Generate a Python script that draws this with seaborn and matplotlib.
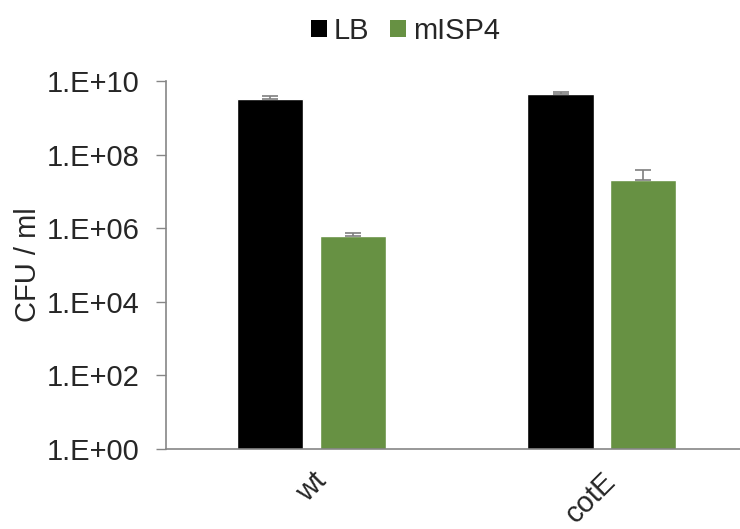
import numpy as np
import pandas as pd
import matplotlib
matplotlib.use("Agg")
import matplotlib.pyplot as plt
import seaborn as sns
from matplotlib.patches import Patch
from matplotlib.ticker import FixedLocator, FuncFormatter

# dados
strains = ["wt", "cotE"]
media = ["LB", "mISP4"]
lb_vals = [3.2e9, 4.3e9]
misp4_vals = [6.0e5, 2.0e7]
lb_err = [0.7e9, 0.6e9]
misp4_err = [1.6e5, 1.8e7]
colors = ["#000000", "#679143"]

df = pd.DataFrame({
    "strain": strains * 2,
    "medium": ["LB"] * 2 + ["mISP4"] * 2,
    "cfu": lb_vals + misp4_vals,
})
errs = {"LB": lb_err, "mISP4": misp4_err}

sns.set_style("white")
plt.rcParams["font.family"] = ["Liberation Sans", "DejaVu Sans"]

fig = plt.figure(figsize=(7.4, 5.29), dpi=100)
ax = fig.add_axes([0.224, 0.151, 0.776, 0.696])

sns.barplot(data=df, x="strain", y="cfu", hue="medium", order=strains,
            hue_order=media, palette=colors, width=0.57, gap=0.2,
            saturation=1, errorbar=None, legend=False, ax=ax)

# barras de erro só para cima
for cont, m in zip(ax.containers, media):
    xs = [p.get_x() + p.get_width() / 2 for p in cont.patches]
    hs = [p.get_height() for p in cont.patches]
    ax.errorbar(xs, hs, yerr=[np.zeros(len(hs)), errs[m]], fmt="none",
                ecolor="#7f7f7f", elinewidth=1.2, capsize=6, capthick=1.2)

ax.set_yscale("log")
ax.set_ylim(1, 1e10)
ax.set_xlim(-0.503, 1.476)
ax.yaxis.set_major_locator(FixedLocator([10.0 ** k for k in range(0, 11, 2)]))
ax.yaxis.set_minor_locator(FixedLocator([]))
ax.yaxis.set_major_formatter(FuncFormatter(lambda v, p: "1.E+%02d" % round(np.log10(v))))
ax.tick_params(axis="y", labelsize=21, length=7, width=1, color="#868686",
               direction="out", left=True, pad=12)
ax.tick_params(axis="x", labelsize=21, length=0, pad=13)
plt.setp(ax.get_xticklabels(), rotation=45, ha="right", rotation_mode="anchor")
ax.set_xlabel("")
ax.set_ylabel("CFU / ml", fontsize=21)
ax.yaxis.set_label_coords(-0.215, 0.5)

for s in ["top", "right"]:
    ax.spines[s].set_visible(False)
for s in ["left", "bottom"]:
    ax.spines[s].set_color("#868686")
    ax.spines[s].set_linewidth(1.2)

handles = [Patch(facecolor=c, edgecolor="none") for c in colors]
fig.legend(handles, media, loc="upper center", bbox_to_anchor=(0.548, 1.018),
           ncol=2, frameon=False, fontsize=21, handlelength=0.55,
           handleheight=0.55, handletextpad=0.25, columnspacing=0.7)

fig.savefig("out.png", dpi=100)
